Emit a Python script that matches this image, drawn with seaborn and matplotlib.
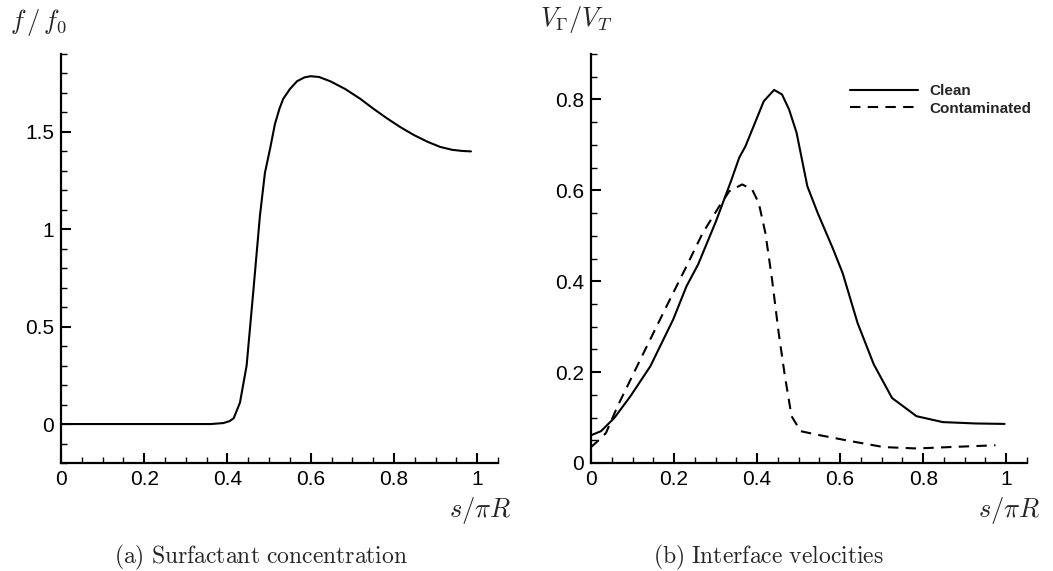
import matplotlib
matplotlib.use("Agg")
import matplotlib.pyplot as plt
import numpy as np
import pandas as pd
import seaborn as sns
from matplotlib.ticker import MultipleLocator

# ---- data ----
s_conc = [0.0, 0.1, 0.2, 0.3, 0.36, 0.39, 0.405, 0.415, 0.43, 0.446, 0.462,
          0.478, 0.49, 0.502, 0.514, 0.525, 0.534, 0.55, 0.567, 0.585, 0.60,
          0.62, 0.647, 0.683, 0.719, 0.75, 0.783, 0.815, 0.847, 0.88, 0.911,
          0.94, 0.965, 0.985]
f_conc = [0.0, 0.0, 0.0, 0.0, 0.0, 0.005, 0.015, 0.03, 0.11, 0.30, 0.68,
          1.07, 1.29, 1.41, 1.54, 1.62, 1.67, 1.72, 1.76, 1.78, 1.786,
          1.782, 1.76, 1.72, 1.67, 1.62, 1.57, 1.525, 1.485, 1.45, 1.423,
          1.408, 1.402, 1.40]

s_clean = [0.0, 0.024, 0.056, 0.095, 0.143, 0.198, 0.230, 0.258, 0.301, 0.337,
           0.357, 0.372, 0.416, 0.441, 0.460, 0.477, 0.495, 0.521, 0.546, 0.582,
           0.606, 0.642, 0.681, 0.725, 0.784, 0.847, 0.926, 0.996]
v_clean = [0.061, 0.070, 0.099, 0.147, 0.213, 0.316, 0.389, 0.437, 0.532, 0.620,
           0.672, 0.697, 0.796, 0.821, 0.811, 0.778, 0.727, 0.609, 0.550, 0.473,
           0.418, 0.308, 0.217, 0.143, 0.103, 0.090, 0.087, 0.086]

s_cont = [0.0, 0.016, 0.036, 0.064, 0.119, 0.182, 0.230, 0.269, 0.309, 0.333,
          0.364, 0.388, 0.404, 0.420, 0.436, 0.452, 0.467, 0.483, 0.505, 0.546,
          0.626, 0.705, 0.784, 0.863, 0.974]
v_cont = [0.035, 0.048, 0.066, 0.125, 0.228, 0.345, 0.433, 0.506, 0.565, 0.598,
          0.613, 0.602, 0.572, 0.506, 0.404, 0.286, 0.191, 0.103, 0.070, 0.062,
          0.048, 0.035, 0.032, 0.035, 0.039]

case_names = ["Clean", "Contaminated"]
x_ticks = [0, 0.2, 0.4, 0.6, 0.8, 1]
x_tick_labels = ["0", "0.2", "0.4", "0.6", "0.8", "1"]
y1_ticks = [0, 0.5, 1, 1.5]
y1_tick_labels = ["0", "0.5", "1", "1.5"]
y2_ticks = [0, 0.2, 0.4, 0.6, 0.8]
y2_tick_labels = ["0", "0.2", "0.4", "0.6", "0.8"]

# ---- style ----
sns.set_theme(style="ticks")
plt.rcParams["font.family"] = ["Liberation Sans", "DejaVu Sans"]
plt.rcParams["mathtext.fontset"] = "cm"

fig = plt.figure(figsize=(10.53, 5.71), dpi=100)
ax1 = fig.add_axes([61 / 1053, 1 - 463 / 571, 437 / 1053, 409 / 571])
ax2 = fig.add_axes([591 / 1053, 1 - 463 / 571, 436 / 1053, 409 / 571])

# panel (a)
df_a = pd.DataFrame({"s": s_conc, "f": f_conc})
sns.lineplot(data=df_a, x="s", y="f", ax=ax1, color="black", lw=1.5,
             sort=False, estimator=None)

# panel (b)
df_b = pd.DataFrame({
    "s": s_clean + s_cont,
    "v": v_clean + v_cont,
    "case": [case_names[0]] * len(s_clean) + [case_names[1]] * len(s_cont),
})
sns.lineplot(data=df_b, x="s", y="v", style="case", ax=ax2, color="black",
             lw=1.5, sort=False, estimator=None,
             dashes={"Clean": "", "Contaminated": (5, 3.5)})

for ax in (ax1, ax2):
    ax.set_xlim(0, 1.05)
    ax.set_xticks(x_ticks)
    ax.set_xticklabels(x_tick_labels)
    ax.xaxis.set_minor_locator(MultipleLocator(0.05))
    for sp in ("top", "right"):
        ax.spines[sp].set_visible(False)
    for sp in ("left", "bottom"):
        ax.spines[sp].set_linewidth(1.6)
        ax.spines[sp].set_color("black")
    ax.tick_params(which="major", direction="in", length=7, width=1.5,
                   labelsize=15, pad=5, colors="black")
    ax.tick_params(which="minor", direction="in", length=4.3, width=1,
                   colors="black")
    ax.set_xlabel("")
    ax.set_ylabel("")
    ax.text(1.03, -0.117, r"$s/\pi R$", transform=ax.transAxes, ha="right",
            va="center", fontsize=19)

ax1.set_ylim(-0.2, 1.9)
ax1.set_yticks(y1_ticks)
ax1.set_yticklabels(y1_tick_labels)
ax1.yaxis.set_minor_locator(MultipleLocator(0.1))

ax2.set_ylim(0, 0.9)
ax2.set_yticks(y2_ticks)
ax2.set_yticklabels(y2_tick_labels)
ax2.yaxis.set_minor_locator(MultipleLocator(0.05))

ax1.text(-0.117, 1.078, r"$f\,/\,f_0$", transform=ax1.transAxes, ha="left",
         va="center", fontsize=19)
ax2.text(-0.117, 1.085, r"$V_\Gamma/V_T$", transform=ax2.transAxes, ha="left",
         va="center", fontsize=19)

handles, labels = ax2.get_legend_handles_labels()
pairs = [(h, l) for h, l in zip(handles, labels) if l in case_names]
leg = ax2.legend([p[0] for p in pairs], [p[1] for p in pairs],
                 loc="upper left", bbox_to_anchor=(0.593, 0.927),
                 frameon=False, borderpad=0, borderaxespad=0,
                 handlelength=4.45, handletextpad=0.8, labelspacing=0.25,
                 prop={"weight": "bold", "size": 11})

fig.text(261 / 1053, 1 - 557 / 571,
         r"$\mathrm{(a)\ Surfactant\ concentration}$", ha="center",
         va="center", fontsize=17)
fig.text(768 / 1053, 1 - 557 / 571,
         r"$\mathrm{(b)\ Interface\ velocities}$", ha="center",
         va="center", fontsize=17)

fig.savefig("out.png", dpi=100)
